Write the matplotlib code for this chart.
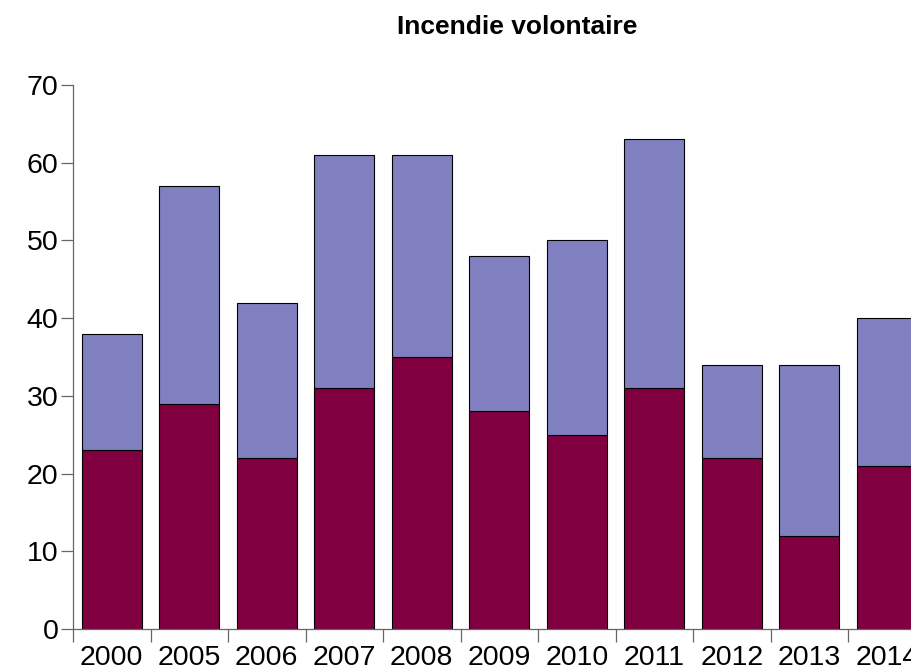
import numpy as np
import matplotlib.pyplot as plt

# valeurs
years = ['2000', '2005', '2006', '2007', '2008', '2009', '2010', '2011', '2012', '2013', '2014']
bottom_vals = [23, 29, 22, 31, 35, 28, 25, 31, 22, 12, 21]
total_vals = [38, 57, 42, 61, 61, 48, 50, 63, 34, 34, 40]
top_vals = [t - b for t, b in zip(total_vals, bottom_vals)]

plt.rcParams['font.family'] = ['Liberation Sans', 'DejaVu Sans']

fig = plt.figure(figsize=(9.11, 6.70), dpi=100)
W, H = 911, 670
ax = fig.add_axes([73 / W, 41 / H, 852.5 / W, 544 / H])

x = np.arange(len(years))
width = 0.775
ax.bar(x, bottom_vals, width, color='#800040', edgecolor='black', linewidth=0.8)
ax.bar(x, top_vals, width, bottom=bottom_vals, color='#8080c0', edgecolor='black', linewidth=0.8)

ax.set_xlim(-0.5, len(years) - 0.5)
ax.set_ylim(0, 70)

for side in ['top', 'right']:
    ax.spines[side].set_visible(False)
for side in ['left', 'bottom']:
    ax.spines[side].set_color('#666666')
    ax.spines[side].set_linewidth(0.9)

ax.set_yticks(range(0, 71, 10))
ax.tick_params(axis='y', direction='out', length=9, width=0.9, color='#666666', labelsize=20.5, pad=1.5)

# ticks aux limites, etiquettes au centre
ax.set_xticks(np.arange(-0.5, len(years), 1.0))
ax.set_xticklabels([])
ax.set_xticks(x, minor=True)
ax.set_xticklabels(years, minor=True)
ax.tick_params(axis='x', which='major', direction='out', length=9.5, width=0.9, color='#666666')
ax.tick_params(axis='x', which='minor', length=0, labelsize=20.5, pad=11.5)

fig.text(517 / W, 1 - 27 / H, 'Incendie volontaire', ha='center', va='center',
         fontsize=19, fontweight='bold')

fig.savefig('out.png', dpi=100)
